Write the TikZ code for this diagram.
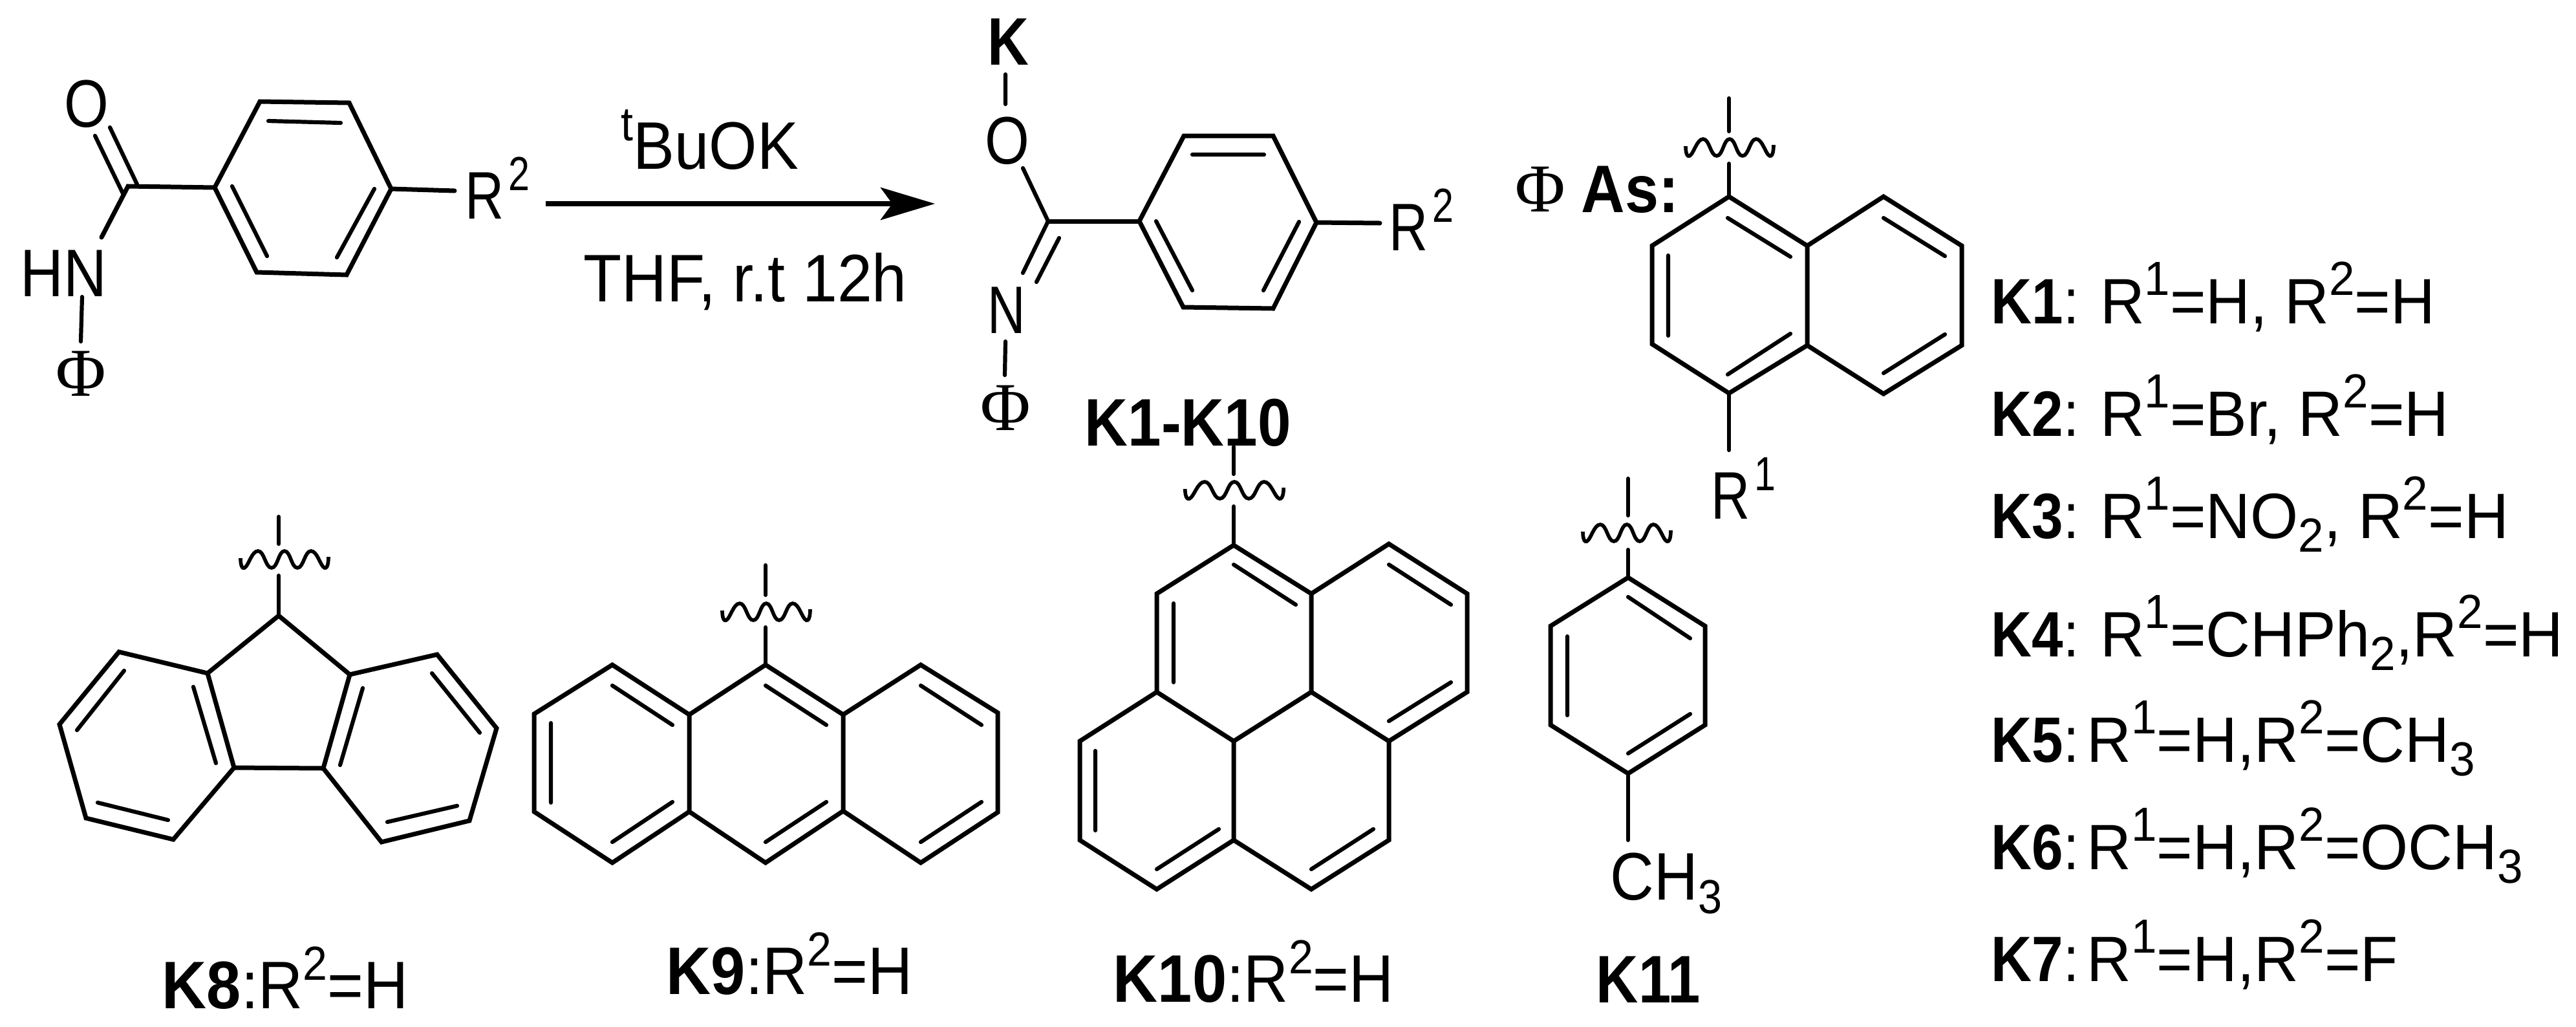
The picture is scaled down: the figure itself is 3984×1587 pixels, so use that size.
\documentclass[tikz,border=0pt]{standalone}
\usepackage{fontspec}
\setmainfont{Liberation Sans}
\newfontfamily\srf{Liberation Serif}
\usetikzlibrary{arrows.meta}
\newcommand\Sx[2]{\scalebox{#1}[1]{#2}}
\newcommand\Sp[1]{\raisebox{10.8pt}{\fontsize{18.5}{20}\selectfont #1}}
\newcommand\Sb[1]{\raisebox{-5.4pt}{\fontsize{18.5}{20}\selectfont #1}}
\newcommand\Wav[3]{\begin{scope}[shift={(#1,#2)},xscale=#3]
\draw[wavline] plot[smooth,tension=0.85] coordinates {(-68,12)(-62,27)(-41,1)(-20,27)(0,1)(20,27)(41,1)(62,27)(68,10)};
\end{scope}}
\tikzset{
  x=0.25pt,y=-0.25pt,
  bond/.style={line width=1.75pt,line join=miter,line cap=round},
  ibond/.style={line width=1.55pt,line cap=round},
  wavline/.style={line width=1.4pt},
  lab/.style={inner sep=0pt,anchor=base west,font=\fontsize{26}{28}\selectfont},
  rlab/.style={inner sep=0pt,anchor=base west,font=\fontsize{24.8}{27}\selectfont},
  phi/.style={inner sep=0pt,font=\srf\fontsize{26.5}{28}\selectfont},
  rxn/.style={line width=2pt,-{Stealth[length=21pt,width=12.5pt,inset=4.5pt]}}
}
\begin{document}
\begin{tikzpicture}
\useasboundingbox (0,0) rectangle (3984,1587);
% ---- reactant
\draw[bond] (402,157)--(540,159)--(605,292)--(536,425)--(397,421)--(332,290)--cycle;
\draw[ibond] (415,187)--(527,190) (359,288)--(413,396) (579,292)--(521,398);
\draw[bond] (332,290)--(198,288)--(157,367);
\draw[bond] (605,292)--(703,295);
\draw[ibond] (170,197)--(212,285) (147,210)--(190,299);
\draw[ibond] (127,459)--(125,528);
\node[lab] (o1) at (99,196) {\Sx{0.85}{O}};
\node[lab] (hn) at (31,458) {\Sx{0.89}{HN}};
\node[phi] (ph1) at (125,578) {Φ};
\node[lab] (r1) at (719,338) {\Sx{0.8}{R\kern2pt\Sp{2}}};
% ---- arrow
\coordinate (as) at (844,315);
\coordinate (ae) at (1446,315);
\draw[rxn] (as)--(ae);
\node[lab] (tb) at (960,261) {\Sx{0.92}{\Sp{t}BuOK}};
\node[lab] (thf) at (902,466) {\Sx{0.93}{THF, r.t 12h}};
% ---- product
\draw[bond] (1762,342)--(1831,210)--(1969,210)--(2036,344)--(1969,477)--(1830,475)--cycle;
\draw[ibond] (1844,239)--(1955,239) (1788,342)--(1844,449) (2009,343)--(1954,449);
\draw[bond] (1762,342)--(1621,342);
\draw[bond] (2036,344)--(2134,345);
\draw[ibond] (1582,260)--(1621,342)--(1582,422) (1638,368)--(1603,436);
\draw[ibond] (1555,115)--(1555,161) (1555,528)--(1554,580);
\node[lab] (k) at (1527,100) {\Sx{0.85}{\textbf{K}}};
\node[lab] (o2) at (1523,253) {\Sx{0.85}{O}};
\node[lab] (n2) at (1527,515) {\Sx{0.78}{N}};
\node[phi] (ph2) at (1555,631) {Φ};
\node[lab] (r2) at (2148,387) {\Sx{0.8}{R\kern2pt\Sp{2}}};
\node[lab] (k110) at (1677,689) {\Sx{0.89}{\textbf{K1-K10}}};
% ---- Phi As + naphthalene
\node[phi] (ph3) at (2382,293) {Φ};
\node[lab] (as1) at (2445,328) {\Sx{0.9}{\textbf{As:}}};
\draw[ibond] (2674,152)--(2674,203) (2674,253)--(2674,304);
\Wav{2675}{214}{1}
\draw[bond] (2674,304)--(2795,380)--(2795,534)--(2674,608)--(2555,532)--(2555,380)--cycle;
\draw[bond] (2795,380)--(2913,304)--(3034,380)--(3034,534)--(2913,609)--(2795,534);
\draw[ibond] (2672,337)--(2769,397) (2580,395)--(2580,519) (2672,579)--(2769,516)
 (2913,337)--(3008,396) (2913,577)--(3008,517);
\draw[ibond] (2674,608)--(2674,696);
\node[lab] (r3) at (2646,802) {\Sx{0.8}{R\kern2pt\Sp{1}}};
% ---- fluorene
\draw[ibond] (431,799)--(431,841) (431,890)--(431,952);
\Wav{440}{851}{1}
\draw[bond] (431,952)--(321,1041)--(362,1187)--(500,1188)--(541,1043)--cycle;
\draw[bond] (321,1041)--(184,1008)--(92,1120)--(133,1265)--(268,1298)--(362,1187);
\draw[bond] (541,1043)--(676,1012)--(768,1126)--(726,1269)--(590,1302)--(500,1188);
\draw[ibond] (299,1062)--(334,1180) (192,1037)--(119,1129) (151,1241)--(260,1268)
 (561,1064)--(526,1183) (668,1041)--(742,1133) (707,1246)--(599,1271);
\node[lab] (k8) at (250,1559) {\Sx{0.92}{\textbf{K8}:R\Sp{2}=H}};
% ---- anthracene
\draw[ibond] (1184,874)--(1184,920) (1184,970)--(1184,1028);
\Wav{1185}{932}{1}
\draw[bond] (1184,1028)--(1304,1105)--(1304,1254)--(1184,1334)--(1066,1255)--(1066,1105)--cycle;
\draw[bond] (1066,1105)--(947,1028)--(826,1104)--(826,1255)--(947,1334)--(1066,1255);
\draw[bond] (1304,1105)--(1424,1028)--(1543,1102)--(1543,1256)--(1424,1334)--(1304,1254);
\draw[ibond] (947,1060)--(1040,1121) (852,1118)--(852,1241) (947,1302)--(1040,1240)
 (1184,1060)--(1278,1121) (1184,1302)--(1278,1240)
 (1424,1060)--(1518,1121) (1424,1302)--(1518,1240);
\node[lab] (k9) at (1030,1537) {\Sx{0.92}{\textbf{K9}:R\Sp{2}=H}};
% ---- pyrene
\draw[ibond] (1908,691)--(1908,733) (1908,783)--(1908,841);
\Wav{1909}{744}{1.12}
\draw[bond] (1908,843)--(2028,918)--(2148,841)--(2269,918)--(2269,1070)--(2148,1146)--(2028,1070)--(2028,918);
\draw[bond] (2028,1070)--(1908,1146)--(1789,1070)--(1789,918)--(1908,843);
\draw[bond] (1789,1070)--(1670,1146)--(1670,1299)--(1789,1375)--(1908,1299)--(1908,1146);
\draw[bond] (1908,1299)--(2028,1375)--(2148,1299)--(2148,1146);
\draw[ibond] (1908,873)--(2004,935) (2148,873)--(2244,935) (2244,1055)--(2148,1115)
 (1815,933)--(1815,1055) (1694,1161)--(1694,1284) (1885,1282)--(1789,1344) (2124,1282)--(2028,1344);
\node[lab] (k10) at (1721,1549) {\Sx{0.92}{\textbf{K10}:R\Sp{2}=H}};
% ---- toluene
\draw[ibond] (2518,740)--(2518,797) (2518,850)--(2518,893);
\Wav{2516}{810}{1}
\draw[bond] (2518,893)--(2637,968)--(2637,1121)--(2518,1196)--(2398,1121)--(2398,968)--cycle;
\draw[ibond] (2518,923)--(2614,987) (2424,984)--(2424,1106) (2518,1165)--(2614,1104);
\draw[ibond] (2518,1196)--(2518,1299);
\node[lab] (ch3) at (2490,1391) {\Sx{0.9}{CH\Sb{3}}};
\node[lab] (k11) at (2468,1550) {\Sx{0.87}{\textbf{K11}}};
% ---- right labels
\node[rlab] (l1) at (3079,500) {\Sx{0.88}{\textbf{K1}: }\Sx{0.96}{R\Sp{1}=H, R\Sp{2}=H}};
\node[rlab] (l2) at (3079,674) {\Sx{0.88}{\textbf{K2}: }\Sx{0.96}{R\Sp{1}=Br, R\Sp{2}=H}};
\node[rlab] (l3) at (3079,832) {\Sx{0.88}{\textbf{K3}: }\Sx{0.96}{R\Sp{1}=NO\Sb{2}, R\Sp{2}=H}};
\node[rlab] (l4) at (3079,1015) {\Sx{0.88}{\textbf{K4}: }\Sx{0.96}{R\Sp{1}=CHPh\Sb{2},R\Sp{2}=H}};
\node[rlab] (l5) at (3079,1178) {\Sx{0.88}{\textbf{K5}:}\kern3pt\Sx{0.96}{R\Sp{1}=H,R\Sp{2}=CH\Sb{3}}};
\node[rlab] (l6) at (3079,1344) {\Sx{0.88}{\textbf{K6}:}\kern3pt\Sx{0.96}{R\Sp{1}=H,R\Sp{2}=OCH\Sb{3}}};
\node[rlab] (l7) at (3079,1517) {\Sx{0.88}{\textbf{K7}:}\kern3pt\Sx{0.96}{R\Sp{1}=H,R\Sp{2}=F}};
\end{tikzpicture}
\end{document}
